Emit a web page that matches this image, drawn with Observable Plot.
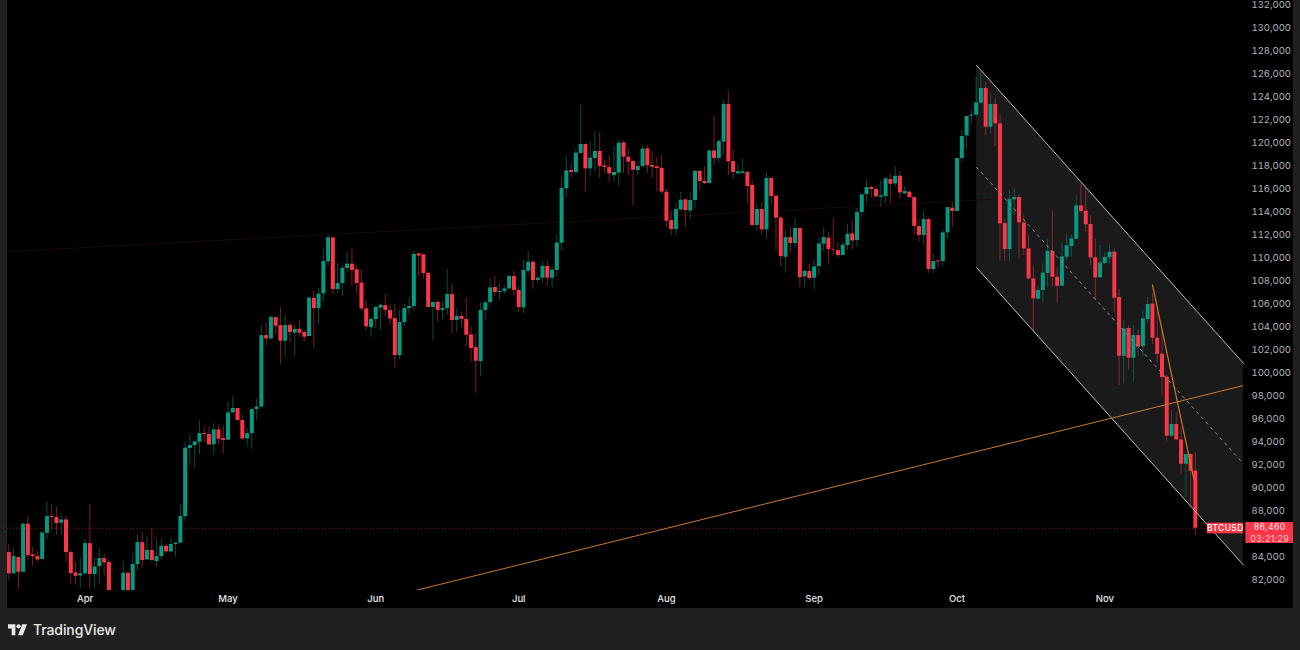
<!DOCTYPE html>
<html>
<head>
<meta charset="utf-8">
<title>BTCUSD</title>
<script src="https://cdn.jsdelivr.net/npm/d3@7"></script>
<script src="https://cdn.jsdelivr.net/npm/@observablehq/plot@0.6"></script>
<style>
html,body{margin:0;padding:0;background:#202020;width:1300px;height:650px;overflow:hidden}
#chart{position:absolute;left:7px;top:0}
#chart svg{display:block;background:#000}
#brand{position:absolute;left:8px;top:608px;height:42px;display:flex;align-items:center;gap:6px;color:#e8e8e8;font:500 14px Inter,sans-serif;letter-spacing:-.1px}
.spaced{letter-spacing:.35px}
</style>
</head>
<body>
<div id="chart"></div>
<div id="brand"><svg width="19" height="15" viewBox="0 0 36 28"><path fill="#e8e8e8" d="M14 25H7V12H0V4h14v21zM28 25h-9l8-21h9l-8 21z"/><circle fill="#e8e8e8" cx="20" cy="8" r="4"/></svg><span>TradingView</span></div>
<script>
// Daily candles, [open, high, low, close], grouped by month
const mar = [[84340,85040,81910,82490],[82490,84690,82430,83990],[83910,83910,81090,82630],[82630,86890,82540,86810],[86810,87470,83590,84080],[84140,84780,83120,83990],[83990,84430,83500,83700],[83730,86050,83730,86050],[86020,88750,85500,87470],[87470,88520,86310,87390],[87390,88290,85820,86860],[86890,87710,85790,87180],[87180,87470,83500,84340],[84340,84520,81590,82510],[82570,83470,81530,82280],[82310,83850,81240,82490]];
const apr = [[82490,85470,82340,85120],[85120,88520,81150,82430],[82430,83850,81180,83090],[83120,84660,81620,83820],[83820,84170,82340,83440],[83470,83700,80200,80500],[80300,81090,79800,80500],[80500,80900,79500,80000],[80000,83530,79500,82540],[82540,82720,79800,80400],[80400,84230,80000,83300],[83300,85880,82780,85210],[85210,86050,82980,83650],[83700,85730,83650,84520],[84520,86400,83560,83650],[83560,85470,83070,83990],[83990,85470,83700,84890],[84890,85100,84280,84400],[84400,85530,84340,85040],[85040,85270,83940,85150],[85150,88490,85150,87470],[87470,93910,87070,93420],[93390,94670,91910,93650],[93650,94000,91680,93970],[93940,95800,92870,94690],[94690,95220,93910,94610],[94610,95300,93650,93710],[93710,95590,92810,95010],[95010,95420,93740,94200],[94260,95330,92930,94090]];
const may = [[94110,97420,94110,96490],[96490,97910,96410,96870],[96870,96870,95830,95830],[95830,96260,94090,94230],[94230,95130,93510,94690],[94690,96780,93330,96780],[96780,97680,95800,97010],[96990,104080,96990,103210],[103210,104290,102320,102920],[102920,104950,102780,104780],[104780,104780,103300,104030],[104080,105650,100690,102720],[102720,104950,101420,104080],[104080,104320,102580,103480],[103420,104140,101420,103740],[103740,104520,103070,103420],[103480,103650,102630,103070],[103130,106550,103130,106460],[106460,107070,102080,105560],[105560,107270,104170,106810],[106840,110700,106110,109650],[109620,111970,109220,111710],[111710,111710,106780,107220],[107220,109480,106840,107740],[107740,109300,106610,109040],[109040,110440,108720,109420],[109420,110750,107510,108870],[108930,109280,106780,107740],[107770,108870,105330,105530],[105530,106260,103620,103970],[103910,104810,103070,104610]];
const jun = [[104610,105820,103790,105650],[105590,105970,103650,105850],[105820,106810,104870,105390],[105390,105970,104170,104660],[104690,105910,100400,101470],[101470,105390,101130,104350],[104350,105910,103940,105560],[105560,106460,105010,105740],[105740,110520,105330,110260],[110320,110320,108350,110120],[110230,110320,108090,108610],[108610,108780,105650,105650],[105650,106090,102780,106090],[106090,106260,104370,105390],[105390,106110,104520,105560],[105560,108930,104950,106780],[106780,107710,103360,104520],[104520,105510,103500,104870],[104870,105220,103940,104610],[104610,106460,102260,103240],[103270,103940,100890,102080],[102170,103360,98200,100980],[100950,106060,99680,105390],[105390,106260,104640,106060],[106090,108120,105820,107360],[107390,108350,106610,106960],[106960,107710,106320,107040],[107040,107540,106840,107270],[107270,108520,107190,108350],[108350,108780,106690,107130]];
const jul = [[107130,107510,105240,105650],[105620,109740,105100,108870],[108810,110520,108520,109590],[109590,109740,107220,108000],[108000,108380,107770,108200],[108200,109650,107800,109220],[109220,109650,107480,108200],[108200,109130,107390,108900],[108870,112000,108290,111250],[111240,116930,110600,116000],[115970,118780,115190,117530],[117560,118140,116930,117390],[117390,119420,117220,119070],[119040,123190,119010,119830],[119830,119880,115680,117710],[117710,120030,116980,118640],[118610,120960,117450,119220],[119220,120840,116870,117910],[117970,118490,117270,117820],[117820,118870,116520,117270],[117130,119650,116550,117390],[117330,120230,116170,119940],[119970,120120,117330,118720],[118720,119450,117130,118290],[118350,118460,114460,117590],[117560,118290,117130,117910],[117910,119740,117850,119420],[119450,119770,117330,117970],[118000,119220,116870,117850],[117880,118720,115710,117740],[117740,118870,115480,115680]];
const aug = [[115680,115970,112630,113160],[113210,114000,111910,112430],[112430,114720,111880,114170],[114140,115650,114030,114980],[115010,115100,112630,114080],[114050,115650,113270,114950],[114950,117620,114230,117480],[117480,117620,115820,116610],[116610,117910,116320,116430],[116430,119270,116400,119270],[119270,122260,118000,118610],[118610,120230,118140,120090],[120030,123650,118870,123300],[123300,124470,117130,118320],[118350,119300,116810,117390],[117270,118000,117220,117450],[117300,118580,117220,117450],[117390,117560,114660,116170],[116260,116690,112690,112780],[112780,114580,112290,114170],[114170,114750,111910,112400],[112400,117360,111620,116870],[116870,116930,114520,115300],[115330,115390,110600,113420],[113420,113560,109210,110080],[110020,112340,108630,111730],[111730,112570,110310,111210],[111210,113420,110810,112520],[112520,112570,107410,108250],[108310,108860,107350,108800],[108780,109440,107990,108170]];
const sep = [[108200,109820,107210,109180],[109210,111700,108400,111180],[111150,112570,110540,111730],[111680,112170,109330,110690],[110660,113360,110170,110600],[110600,111300,109960,110170],[110170,111330,110140,111070],[111040,112890,110600,112020],[112050,113210,110660,111440],[111470,114260,110890,113910],[113910,115450,113440,115450],[115470,116780,114720,116080],[116080,116260,115160,115910],[115910,116110,115160,115270],[115240,116690,114370,115360],[115300,116980,114720,116840],[116780,117270,114720,116370],[116400,117910,116110,117070],[117070,117480,115070,115620],[115530,116110,115470,115740],[115680,115820,115180,115210],[115210,115300,111970,112690],[112690,113270,111360,111910],[111910,113940,111040,113300],[113300,113440,108630,108950],[108950,110310,108630,109650],[109700,109730,109090,109620],[109650,112340,109210,112140],[112140,114370,111560,114340],[114290,114750,112630,114000]];
const oct = [[114000,118610,113940,118610],[118610,121040,118290,120520],[120580,122260,119300,122260],[122290,122840,121560,122380],[122380,125680,122140,123450],[123420,126120,123360,124700],[124700,125250,120610,121330],[121330,124150,120690,123300],[123300,123800,119650,121620],[121620,122490,109680,112920],[112950,113360,109680,110690],[110690,115830,109680,115040],[115020,115970,113650,115220],[115220,115480,109940,113010],[113010,113650,110170,110750],[110750,111970,108060,108140],[108140,109220,103590,106400],[106370,107480,106320,107130],[107130,109450,106110,108640],[108610,111620,107420,110520],[110520,114030,107420,108290],[108290,109100,106030,107500],[107500,111330,107500,110060],[110030,112000,109680,111010],[110960,111970,110030,111620],[111590,115390,111560,114490],[114490,116410,113800,114000],[114030,116120,112200,112840],[112870,113650,109300,109970],[109970,111560,106260,108230],[108230,111040,108230,109510]];
const nov = [[109480,110460,109390,110000],[109970,111100,109390,110460],[110460,110750,105240,106460],[106520,107210,98860,101410],[101410,104520,99010,103790],[103820,104080,100230,101240],[101240,104080,99150,103210],[103210,103710,101390,102200],[102250,105390,101390,104660],[104600,106550,104230,105910],[105940,106900,102430,102980],[102980,105240,100810,101590],[101590,103650,97910,99560],[99590,99800,93940,94460],[94460,96690,94370,95480],[95480,96490,94080,94140],[94140,95190,91130,92020],[92020,92870,89150,92870],[92870,92920,88280,91420],[91420,93010,85820,86460]];

// 86,000 sits behind the last-price tag in the reference, so it is not listed
const yTicks = [82000,84000,88000,90000,92000,94000,96000,98000,100000,102000,104000,106000,108000,110000,112000,114000,116000,118000,120000,122000,124000,126000,128000,130000,132000];
const monthNames = ["Apr","May","Jun","Jul","Aug","Sep","Oct","Nov"];
const monthDays = [16,46,77,107,138,169,199,230];          // days after the first candle

// Channel: [day, upper, middle, lower]
const channelStart = [203.1,126700,117850,109110];
const channelEnd   = [259.1,100800,92060,83260];
// Trend lines: [day, price]
const longTrend  = [[85.3,81040],[259.1,98870]];
const shortTrend = [[240,107630],[248.7,90700]];
const faintTrend = [[0,110520],[206,115050]];
const lastPrice = 86460;
const symbol = "BTCUSD";
const countdown = "03:21:29";

const GREEN = "#089981", RED = "#fa3648", ORANGE = "#c87a2c";
const day = i => new Date(Date.UTC(2025,2,16) + i*864e5);
const candles = [...mar,...apr,...may,...jun,...jul,...aug,...sep,...oct,...nov]
  .map(([open,high,low,close],i)=>({date:day(i),open,high,low,close,color:close>=open?GREEN:RED}));
const pts = a => a.map(([d,p])=>({date:day(d),price:p}));
const channel = [channelStart,channelEnd].map(([d,u,m,l])=>({date:day(d),u,m,l}));
const fmt = d3.format(",");

const plot = Plot.plot({
  width:1286, height:608,
  marginLeft:0, marginRight:50, marginTop:0, marginBottom:18,
  style:{background:"#000",fontFamily:"Inter, sans-serif"},
  x:{type:"utc",domain:[day(0),day(250)],range:[1.33,1192.6]},
  y:{type:"linear",domain:[82000,132000],range:[579,4]},
  marks:[
    Plot.areaY(channel,{x:"date",y1:"l",y2:"u",fill:"#1a1a1a"}),
    Plot.line(pts(faintTrend),{x:"date",y:"price",stroke:"#1c080a",strokeWidth:1}),
    Plot.ruleY([lastPrice],{stroke:RED,strokeOpacity:.55,strokeWidth:1,strokeDasharray:"1,2"}),
    Plot.ruleX(candles,{x:"date",y1:"low",y2:"high",stroke:"color",strokeOpacity:.5,strokeWidth:1,clip:true}),
    Plot.ruleX(candles,{x:"date",y1:"open",y2:"close",stroke:"color",strokeWidth:4,clip:true}),
    Plot.line(channel,{x:"date",y:"u",stroke:"#bdbdbd",strokeWidth:1}),
    Plot.line(channel,{x:"date",y:"l",stroke:"#bdbdbd",strokeWidth:1}),
    Plot.line(channel,{x:"date",y:"m",stroke:"#8e8e8e",strokeWidth:1,strokeDasharray:"2.5,4.5"}),
    Plot.line(pts(longTrend),{x:"date",y:"price",stroke:ORANGE,strokeWidth:1,clip:true}),
    Plot.line(pts(shortTrend),{x:"date",y:"price",stroke:ORANGE,strokeWidth:1.2}),
    Plot.axisY(yTicks,{anchor:"right",tickSize:0,tickPadding:8,tickFormat:fmt,fill:"#b2b5be",fontSize:9.5,label:null}),
    Plot.axisX(monthDays.map(day),{anchor:"bottom",tickSize:0,tickPadding:5,tickFormat:(d,i)=>monthNames[i],fill:"#e8e8e8",fontSize:9.5,fontWeight:500,label:null}),
    Plot.rect([{a:251.5,b:259.1}],{x1:d=>day(d.a),x2:d=>day(d.b),y1:()=>85970,y2:()=>86900,fill:RED}),
    Plot.rect([{a:259.6,b:269.6}],{x1:d=>day(d.a),x2:d=>day(d.b),y1:()=>85130,y2:()=>86960,fill:RED}),
    Plot.text([symbol],{x:()=>day(255.3),y:()=>86430,text:d=>d,fill:"#fff",fontSize:8.5,fontWeight:500,className:"spaced"}),
    Plot.text([lastPrice],{x:()=>day(264.6),y:()=>86540,text:d=>fmt(d),fill:"#ffe3e6",fontSize:8.8,className:"spaced"}),
    Plot.text([countdown],{x:()=>day(264.6),y:()=>85540,text:d=>d,fill:"#ffc7cc",fontSize:8.8,className:"spaced"})
  ]
});
document.getElementById("chart").append(plot);
</script>
</body>
</html>
